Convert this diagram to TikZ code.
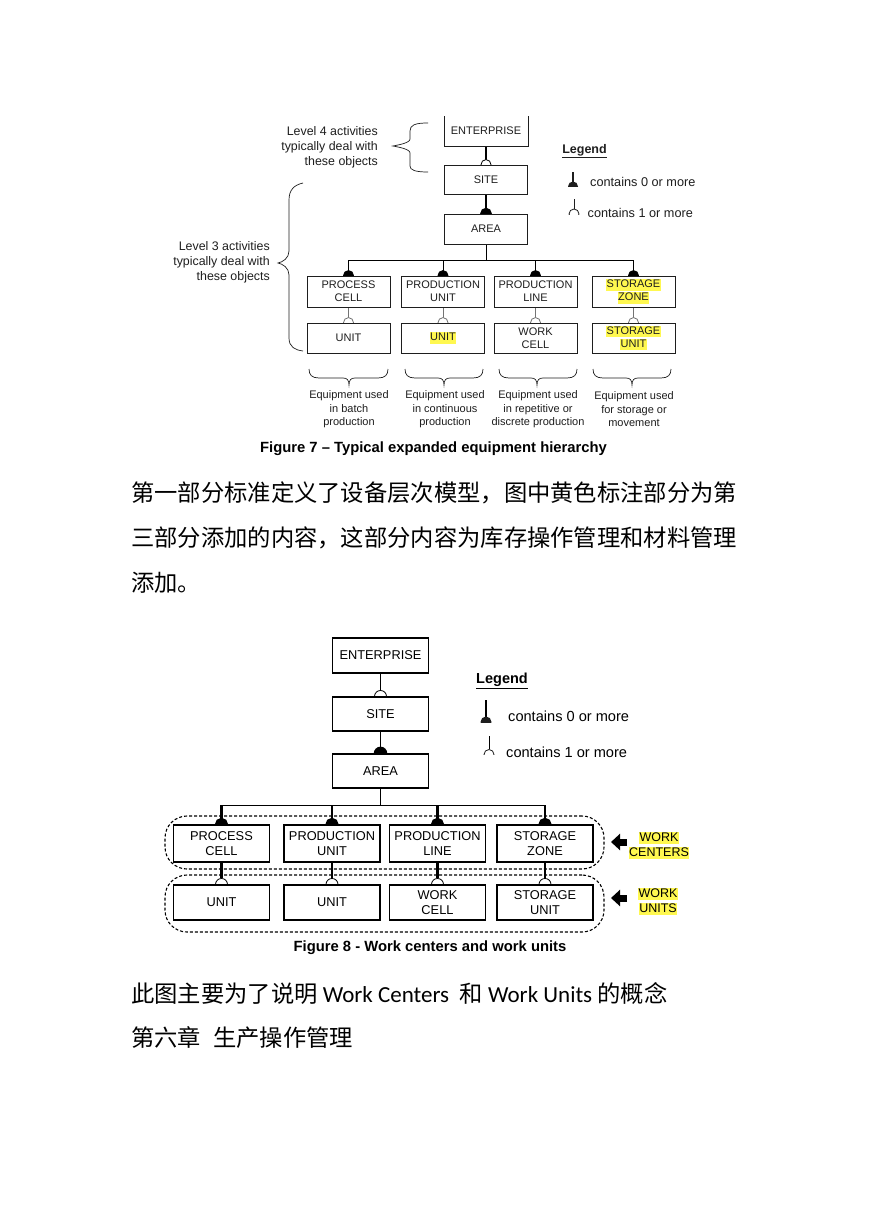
\documentclass[tikz,border=0pt]{standalone}
\usepackage{fontspec}
\setmainfont{Liberation Sans}
\newfontfamily\cjk{Noto Sans CJK SC}
\newfontfamily\calfont{Carlito}
\usetikzlibrary{arrows.meta}
\pgfdeclarelayer{bg}
\pgfsetlayers{bg,main}
\definecolor{hly}{RGB}{255,248,80}
\definecolor{ink}{RGB}{30,30,30}
\newcommand\hlt[1]{{\setlength{\fboxsep}{0.6pt}\colorbox{hly}{\rule[-0.2em]{0pt}{0.92em}#1}}}
% connector with filled semicircle (contains 0 or more)
\newcommand\zeromore[4]{\begin{pgfonlayer}{bg}\draw[#1] (#2) -- (#3.north); \fill[#1] (#3.north) circle (#4);\end{pgfonlayer}}
% connector with open semicircle (contains 1 or more)
\newcommand\onemore[4]{\begin{pgfonlayer}{bg}\draw[#1] (#2) -- ([yshift=#4]#3.north); \draw[#1,line width=0.8pt,fill=white] (#3.north) circle (#4);\end{pgfonlayer}}
% downward horizontal brace
\newcommand\hbrace[3]{\draw[bracestyle] (#1,369) .. controls (#1,375) and ({#1+3},378) .. ({#1+10},378) -- ({#2-6},378) .. controls ({#2-2},378) and (#2,380) .. (#2,385) .. controls (#2,380) and ({#2+2},378) .. ({#2+6},378) -- ({#3-10},378) .. controls ({#3-3},378) and (#3,375) .. (#3,369);}
% legend half symbols
\newcommand\legfull[3]{\begin{scope}\clip ({#1-#3-1},{#2-#3-1}) rectangle ({#1+#3+1},#2); \fill[ink] (#1,#2) circle (#3pt);\end{scope}}
\newcommand\legopen[3]{\begin{scope}\clip ({#1-#3-1},{#2-#3-1}) rectangle ({#1+#3+1},#2); \draw[ink,line width=0.8pt] (#1,#2) circle (#3pt);\end{scope}}
\tikzset{
  boxa/.style={draw=ink, line width=0.8pt, fill=white, minimum width=83pt, minimum height=30pt, inner sep=0pt, align=center, text=ink, font=\fontsize{11}{13}\selectfont},
  boxb/.style={draw=black, line width=1.1pt, fill=white, minimum width=96pt, minimum height=35pt, inner sep=0pt, align=center, font=\fontsize{12.8}{15}\selectfont},
  thickc/.style={draw=black, line width=1.6pt},
  thinc/.style={draw=black, line width=0.9pt},
  grayc/.style={draw=black!55, line width=0.9pt},
  heavyc/.style={draw=black, line width=2.2pt},
  bracestyle/.style={draw=ink, line width=0.7pt},
  smalltext/.style={inner sep=0pt, text=ink, align=center, font=\fontsize{11}{13.5}\selectfont},
  leveltext/.style={inner sep=0pt, text=ink, align=right, font=\fontsize{12.4}{15}\selectfont},
  legtext/.style={inner sep=0pt, text=ink, anchor=west, font=\fontsize{12.7}{15}\selectfont},
  legtextb/.style={inner sep=0pt, anchor=west, font=\fontsize{14.6}{17}\selectfont},
  caption/.style={inner sep=0pt, font=\bfseries\fontsize{14.8}{17}\selectfont},
  zh/.style={inner sep=0pt, anchor=base west, font=\cjk\fontsize{23.3}{28}\selectfont},
  outline/.style={draw=black, line width=1.1pt, dash pattern=on 3pt off 2pt, rounded corners=22pt, minimum width=439pt, minimum height=53pt, inner sep=0pt},
  bigarrow/.style={line width=7pt, -{Triangle[length=9pt,width=16pt]}},
  wtext/.style={inner sep=0pt, align=center, font=\fontsize{12.5}{15}\selectfont}
}
\begin{document}
\begin{tikzpicture}[x=1pt,y=-1pt]
\useasboundingbox (0,0) rectangle (869,1228);
\begin{pgfonlayer}{bg}\fill[white] (0,0) rectangle (869,1228);\end{pgfonlayer}

% ================= Figure 7 =================
\node[boxa, draw=none, minimum height=29pt] (ent1) at (486,131) {ENTERPRISE};
\draw[draw=ink, line width=0.8pt] (ent1.north west) -- (ent1.south west) -- (ent1.south east) -- (ent1.north east);
\node[boxa, minimum height=29pt] (site1) at (486,179.5) {SITE};
\node[boxa] (area1) at (486,229) {AREA};

\node[boxa, minimum height=31pt] (pc1) at (348.5,291.5) {PROCESS\\CELL};
\node[boxa, minimum height=31pt] (pu1) at (443,291.5) {PRODUCTION\\UNIT};
\node[boxa, minimum height=31pt] (pl1) at (535.5,291.5) {PRODUCTION\\LINE};
\node[boxa, minimum height=31pt] (sz1) at (633.5,291.5) {\hlt{STORAGE}\\\hlt{ZONE}};

\node[boxa] (u1) at (348.5,338) {UNIT};
\node[boxa] (u2) at (443,338) {\hlt{UNIT}};
\node[boxa] (wc1) at (535.5,338) {WORK\\CELL};
\node[boxa] (su1) at (633.5,338) {\hlt{STORAGE}\\\hlt{UNIT}};

\onemore{thickc}{ent1.south}{site1}{5pt}
\zeromore{thickc}{site1.south}{area1}{5pt}
\coordinate (bus1) at (486,260);
\begin{pgfonlayer}{bg}
\draw[thinc] (area1.south) -- (bus1);
\draw[thinc] (pc1.north |- bus1) -- (sz1.north |- bus1);
\end{pgfonlayer}
\zeromore{thinc}{pc1.north |- bus1}{pc1}{5pt}
\zeromore{thinc}{pu1.north |- bus1}{pu1}{5pt}
\zeromore{thinc}{pl1.north |- bus1}{pl1}{5pt}
\zeromore{thinc}{sz1.north |- bus1}{sz1}{5pt}
\onemore{grayc}{pc1.south}{u1}{5pt}
\onemore{grayc}{pu1.south}{u2}{5pt}
\onemore{grayc}{pl1.south}{wc1}{5pt}
\onemore{grayc}{sz1.south}{su1}{5pt}

% braces and level texts
\draw[bracestyle] (428,123) .. controls (415,123) and (410,125) .. (410,131) -- (410,139) .. controls (410,143) and (398,145) .. (393,146) .. controls (398,147) and (410,149) .. (410,153) -- (410,166) .. controls (410,170) and (415,172) .. (428,172);
\node[leveltext, anchor=east] (lv4) at (378,147) {Level 4 activities\\typically deal with\\these objects};
\draw[bracestyle] (303,183) .. controls (294,185) and (289,190) .. (289,200) -- (289,251) .. controls (289,258) and (283,262) .. (278,263) .. controls (283,264) and (289,268) .. (289,275) -- (289,338) .. controls (289,347) and (295,350) .. (303,351);
\node[leveltext, anchor=east] (lv3) at (270,262) {Level 3 activities\\typically deal with\\these objects};

\hbrace{309}{349}{388}
\hbrace{405}{444}{483}
\hbrace{499}{537}{577}
\hbrace{593}{632}{671}
\node[smalltext] (eq1) at (349,409.5) {Equipment used\\in batch\\production};
\node[smalltext] (eq2) at (445,409.5) {Equipment used\\in continuous\\production};
\node[smalltext] (eq3) at (538,409.5) {Equipment used\\in repetitive or\\discrete production};
\node[smalltext] (eq4) at (634,409.5) {Equipment used\\for storage or\\movement};

% legend 1
\node[inner sep=0pt, text=ink, font=\bfseries\fontsize{12.5}{15}\selectfont] (leg1) at (584.5,151) {\underline{Legend}};
\draw[ink, line width=1.5pt] (573,172) -- (573,182);
\legfull{573}{186.5}{5}
\node[legtext] (l1a) at (590,181.5) {contains 0 or more};
\draw[ink, line width=0.8pt] (574,199) -- (574,209);
\legopen{574}{214}{5}
\node[legtext] (l1b) at (587.5,213) {contains 1 or more};

\node[caption] (cap7) at (433.5,449) {Figure 7 -- Typical expanded equipment hierarchy};

% ================= Chinese paragraph =================
\node[zh] (p1) at (131,501) {第一部分标准定义了设备层次模型，图中黄色标注部分为第};
\node[zh] (p2) at (131,546) {三部分添加的内容，这部分内容为库存操作管理和材料管理};
\node[zh] (p3) at (131,591) {添加。};

% ================= Figure 8 =================
\node[boxb] (ent2) at (380.5,655.5) {ENTERPRISE};
\node[boxb, minimum height=34pt] (site2) at (380.5,714) {SITE};
\node[boxb, minimum height=34pt] (area2) at (380.5,771) {AREA};

\node[boxb, minimum height=37pt] (pc2) at (221.5,843.5) {PROCESS\\CELL};
\node[boxb, minimum height=37pt] (pu2) at (332,843.5) {PRODUCTION\\UNIT};
\node[boxb, minimum height=37pt] (pl2) at (437.5,843.5) {PRODUCTION\\LINE};
\node[boxb, minimum height=37pt] (sz2) at (545,843.5) {STORAGE\\ZONE};

\node[boxb] (u3) at (221.5,902.5) {UNIT};
\node[boxb] (u4) at (332,902.5) {UNIT};
\node[boxb] (wc2) at (437.5,902.5) {WORK\\CELL};
\node[boxb] (su2) at (545,902.5) {STORAGE\\UNIT};

\onemore{thickc}{ent2.south}{site2}{6pt}
\zeromore{thickc}{site2.south}{area2}{6pt}
\coordinate (bus2) at (380.5,805);
\begin{pgfonlayer}{bg}
\draw[thinc] (area2.south) -- (bus2);
\draw[thinc] (pc2.north |- bus2) -- (sz2.north |- bus2);
\end{pgfonlayer}
\zeromore{heavyc}{pc2.north |- bus2}{pc2}{5.5pt}
\zeromore{heavyc}{pu2.north |- bus2}{pu2}{5.5pt}
\zeromore{heavyc}{pl2.north |- bus2}{pl2}{5.5pt}
\zeromore{heavyc}{sz2.north |- bus2}{sz2}{5.5pt}
\onemore{heavyc}{pc2.south}{u3}{6pt}
\onemore{heavyc}{pu2.south}{u4}{6pt}
\onemore{heavyc}{pl2.south}{wc2}{6pt}
\onemore{heavyc}{sz2.south}{su2}{6pt}

\node[outline] (oc) at (384.5,842.5) {};
\node[outline, minimum height=57pt] (ou) at (384.5,903.5) {};

\node[wtext] (wcl) at (659,845.5) {\hlt{WORK}\\\hlt{CENTERS}};
\node[wtext] (wul) at (658,901.5) {\hlt{WORK}\\\hlt{UNITS}};
\coordinate (wca) at (627,842);
\coordinate (wcb) at (611,842);
\coordinate (wua) at (627,898);
\coordinate (wub) at (611,898);
\draw[bigarrow] (wca) -- (wcb);
\draw[bigarrow] (wua) -- (wub);

% legend 2
\node[inner sep=0pt, font=\bfseries\fontsize{14.5}{17}\selectfont] (leg2) at (502,681) {\underline{Legend}};
\draw[black, line width=1.6pt] (486,700) -- (486,717);
\legfull{486}{722}{5.5}
\node[legtextb] (l2a) at (508,716) {contains 0 or more};
\draw[black, line width=0.8pt] (489,736) -- (489,749);
\legopen{489}{754.5}{5}
\node[legtextb] (l2b) at (506,752.5) {contains 1 or more};

\node[caption] (cap8) at (430,948) {Figure 8 - Work centers and work units};

% ================= closing text =================
\node[zh, font=\calfont\fontsize{23}{28}\selectfont] (p4) at (131,1002) {{\cjk\fontsize{23.3}{28}\selectfont 此图主要为了说明} Work Centers\ \ {\cjk\fontsize{23.3}{28}\selectfont 和} Work Units {\cjk\fontsize{23.3}{28}\selectfont 的概念}};
\node[zh] (p5) at (131,1046) {第六章\hspace{12pt}生产操作管理};
\end{tikzpicture}
\end{document}
